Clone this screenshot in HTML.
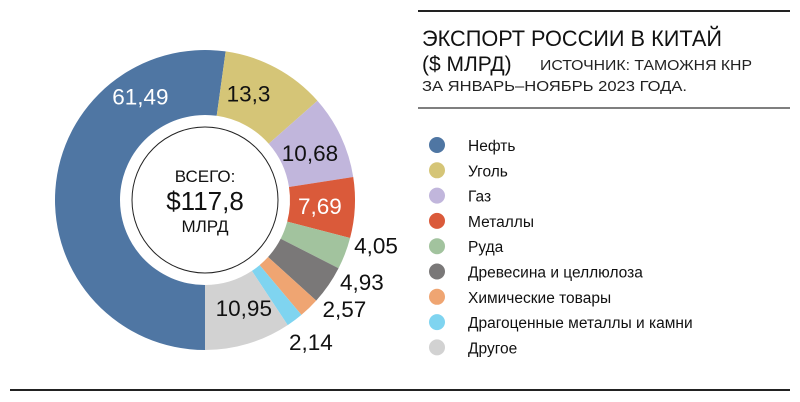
<!DOCTYPE html>
<html><head><meta charset="utf-8"><style>
body{margin:0;background:#fff;width:800px;height:402px;overflow:hidden;font-family:"Liberation Sans",sans-serif;}
svg{position:absolute;left:0;top:0}
</style></head><body>
<svg width="800" height="402">
<line x1="418" y1="11" x2="790" y2="11" stroke="#222" stroke-width="2"/>
<line x1="418" y1="108" x2="790" y2="108" stroke="#555" stroke-width="1.5"/>
<line x1="10" y1="390" x2="790" y2="390" stroke="#222" stroke-width="2"/>
<text x="422" y="46" font-size="22" fill="#111" textLength="300" lengthAdjust="spacingAndGlyphs">ЭКСПОРТ РОССИИ В КИТАЙ</text>
<text x="422" y="71" font-size="21" fill="#111">($ МЛРД)</text>
<text x="540" y="70" font-size="15" fill="#222" textLength="212" lengthAdjust="spacingAndGlyphs">ИСТОЧНИК: ТАМОЖНЯ КНР</text>
<text x="422" y="91" font-size="15" fill="#222" textLength="265" lengthAdjust="spacingAndGlyphs">ЗА ЯНВАРЬ–НОЯБРЬ 2023 ГОДА.</text>
<g id="donut"></g>
<g id="legend"></g>
<circle cx="205" cy="200" r="73" fill="none" stroke="#222" stroke-width="1"/>
<text x="205" y="182" font-size="17" text-anchor="middle" fill="#111">ВСЕГО:</text>
<text x="205" y="210" font-size="26" text-anchor="middle" fill="#111">$117,8</text>
<text x="205" y="232" font-size="17" text-anchor="middle" fill="#111">МЛРД</text>
</svg>
<script>
const categories=["Нефть","Уголь","Газ","Металлы","Руда","Древесина и целлюлоза","Химические товары","Драгоценные металлы и камни","Другое"];
const values=[61.49,13.3,10.68,7.69,4.05,4.93,2.57,2.14,10.95];
const valueLabels=["61,49","13,3","10,68","7,69","4,05","4,93","2,57","2,14","10,95"];
const colors=["#4f76a3","#d5c577","#c1b6dc","#da5a3a","#a2c39e","#7a7878","#efa572","#7fd4f0","#d2d2d2"];
const labelColors=["#fff","#111","#111","#fff","#111","#111","#111","#111","#111"];
const cx=205,cy=200,R=150,r=85,NS="http://www.w3.org/2000/svg";
const total=values.reduce((a,b)=>a+b,0);
const D=Math.PI/180;
const angOffset=[0,-6,1,0,-6,-7,-8,0,-3];
function pt(a,rad){return [cx+rad*Math.sin(a),cy-rad*Math.cos(a)];}
const g=document.getElementById('donut');
let a0=Math.PI;
values.forEach((v,i)=>{
 const a1=a0+v/total*2*Math.PI;
 const [x0,y0]=pt(a0,R),[x1,y1]=pt(a1,R),[x2,y2]=pt(a1,r),[x3,y3]=pt(a0,r);
 const lg=(a1-a0)>Math.PI?1:0;
 const p=document.createElementNS(NS,'path');
 p.setAttribute('d',`M${x0},${y0}A${R},${R} 0 ${lg} 1 ${x1},${y1}L${x2},${y2}A${r},${r} 0 ${lg} 0 ${x3},${y3}Z`);
 p.setAttribute('fill',colors[i]);
 
 
 g.appendChild(p);
 let am=(a0+a1)/2+angOffset[i]*D;
 const small=v<5;
 let lr=small?177:115;
 if(i===0){lr=122;am=328*D;}
 const [lx,ly]=pt(am,lr);
 const t=document.createElementNS(NS,'text');
 t.setAttribute('x',lx);t.setAttribute('y',ly+8);
 t.setAttribute('text-anchor','middle');
 t.setAttribute('font-size','22.5');
 t.setAttribute('fill',small?'#111':labelColors[i]);
 t.textContent=valueLabels[i];
 
 
 g.appendChild(t);
 a0=a1;
});
const lgd=document.getElementById('legend');
categories.forEach((c,i)=>{
 const y=145+i*25.3;
 const ci=document.createElementNS(NS,'circle');
 ci.setAttribute('cx',437);ci.setAttribute('cy',y);ci.setAttribute('r',8);ci.setAttribute('fill',colors[i]);
 
 
 lgd.appendChild(ci);
 const t=document.createElementNS(NS,'text');
 t.setAttribute('x',468);t.setAttribute('y',y+6);t.setAttribute('font-size','15.5');t.setAttribute('fill','#111');
 t.textContent=c;
 
 
 lgd.appendChild(t);
});
</script>
</body></html>
